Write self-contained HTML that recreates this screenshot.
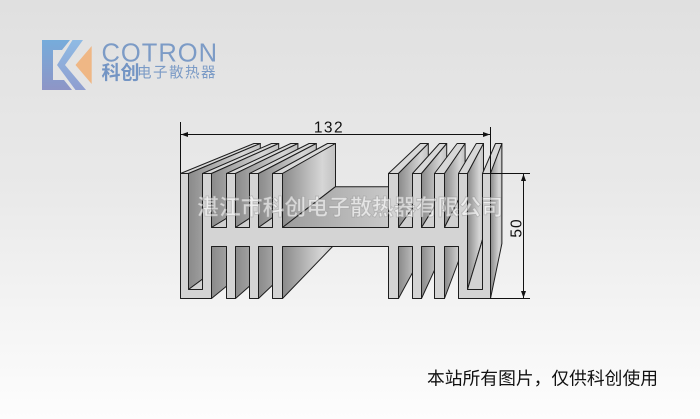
<!DOCTYPE html>
<html><head><meta charset="utf-8"><style>
html,body{margin:0;padding:0;background:#eee;}
svg{display:block;}
</style></head><body>
<svg width="700" height="419" viewBox="0 0 700 419" xmlns="http://www.w3.org/2000/svg" font-family="'Liberation Sans','Noto Sans CJK SC',sans-serif">
<defs>
<linearGradient id="bg" x1="0" y1="0" x2="0" y2="1">
<stop offset="0" stop-color="#e0e0e0"/><stop offset="0.45" stop-color="#e9e9e9"/><stop offset="0.75" stop-color="#f4f4f4"/><stop offset="1" stop-color="#fdfdfd"/>
</linearGradient>
<linearGradient id="side" x1="0" y1="0" x2="1" y2="0">
<stop offset="0" stop-color="#8a8a8a"/><stop offset="0.75" stop-color="#d6d6d6"/><stop offset="1" stop-color="#c2c2c2"/>
</linearGradient>
<linearGradient id="btop" x1="0" y1="0" x2="1" y2="0">
<stop offset="0" stop-color="#9c9c9c"/><stop offset="1" stop-color="#d6d6d6"/>
</linearGradient>
<linearGradient id="lb" x1="0" y1="0" x2="0" y2="1">
<stop offset="0" stop-color="#76acdb"/><stop offset="1" stop-color="#8e95c6"/>
</linearGradient>
<linearGradient id="lc" x1="0" y1="0" x2="0" y2="1">
<stop offset="0" stop-color="#8fbbe4"/><stop offset="1" stop-color="#8f9ed0"/>
</linearGradient>
</defs>
<rect x="0" y="0" width="700" height="419" fill="url(#bg)"/>

<!-- logo -->
<path d="M42,40 H70 L62,50 H53 V80 H64 L72,90 H42 Z" fill="url(#lb)"/>
<path d="M72.5,40 H83 L65,65 L86,90 H75.5 L57,65 Z" fill="url(#lc)"/>
<path d="M91.7,46 V84 L75.5,65 Z" fill="#efb785"/>
<text x="101.5" y="61.7" font-size="25.5" fill="#7c9bc6" letter-spacing="1">COTRON</text>
<text x="101.5" y="79" font-size="19" font-weight="bold" fill="#7495c4">科创</text>
<text x="137" y="77.5" font-size="14.5" fill="#7b9bc6" letter-spacing="1.5">电子散热器</text>

<!-- heatsink -->
<g transform="translate(0.5,0.5)" stroke="#1e1e1e" stroke-width="1" stroke-linejoin="round">
<polygon points="180,173 188,173 259.8,143 253.4,143" fill="#d8d8d8"/>
<polygon points="188,173 188,289 259.8,235.8 259.8,143" fill="url(#side)"/>
<polygon points="188,289 202,289 271,235.8 259.8,235.8" fill="#d2d2d2"/>

<polygon points="211,246 211,298 278.2,243 278.2,201.4" fill="url(#side)"/>
<polygon points="202,173 211,173 278.2,143 271,143" fill="#d8d8d8"/>
<polygon points="211,173 211,227 278.2,186.2 278.2,143" fill="url(#side)"/>
<polygon points="211,227 226,227 290.2,186.2 278.2,186.2" fill="#d0d0d0"/>

<polygon points="235,246 235,298 297.4,243 297.4,201.4" fill="url(#side)"/>
<polygon points="226,173 235,173 297.4,143 290.2,143" fill="#d8d8d8"/>
<polygon points="235,173 235,227 297.4,186.2 297.4,143" fill="url(#side)"/>
<polygon points="235,227 249,227 308.6,186.2 297.4,186.2" fill="#d0d0d0"/>

<polygon points="258,246 258,298 315.8,243 315.8,201.4" fill="url(#side)"/>
<polygon points="249,173 258,173 315.8,143 308.6,143" fill="#d8d8d8"/>
<polygon points="258,173 258,227 315.8,186.2 315.8,143" fill="url(#side)"/>
<polygon points="258,227 272,227 327,186.2 315.8,186.2" fill="#d0d0d0"/>

<polygon points="282,246 282,298 335,243 335,201.4" fill="url(#side)"/>
<polygon points="272,173 282,173 335,143 327,143" fill="#d8d8d8"/>
<polygon points="282,173 282,227 335,186.2 335,143" fill="url(#side)"/>
<polygon points="282,227 388,227 419.8,186.2 335,186.2" fill="url(#btop)"/>

<polygon points="398,246 398,298 427.8,243 427.8,201.4" fill="url(#side)"/>
<polygon points="388,173 398,173 427.8,143 419.8,143" fill="#d8d8d8"/>
<polygon points="398,173 398,227 427.8,186.2 427.8,143" fill="url(#side)"/>
<polygon points="398,227 412,227 439,186.2 427.8,186.2" fill="#d0d0d0"/>

<polygon points="421,246 421,298 446.2,243 446.2,201.4" fill="url(#side)"/>
<polygon points="412,173 421,173 446.2,143 439,143" fill="#d8d8d8"/>
<polygon points="421,173 421,227 446.2,186.2 446.2,143" fill="url(#side)"/>
<polygon points="421,227 434,227 456.6,186.2 446.2,186.2" fill="#d0d0d0"/>

<polygon points="444,246 444,298 464.6,243 464.6,201.4" fill="url(#side)"/>
<polygon points="434,173 444,173 464.6,143 456.6,143" fill="#d8d8d8"/>
<polygon points="444,173 444,227 464.6,186.2 464.6,143" fill="url(#side)"/>
<polygon points="444,227 458,227 475.8,186.2 464.6,186.2" fill="#d0d0d0"/>

<polygon points="458,173 467,173 483,143 475.8,143" fill="#d8d8d8"/>
<polygon points="467,173 467,289 483,235.8 483,143" fill="url(#side)"/>
<polygon points="467,289 482,289 495,235.8 483,235.8" fill="#d2d2d2"/>

<polygon points="482,173 490,173 501.4,143 495,143" fill="#d8d8d8"/>
<polygon points="490,173 490,298 501.4,243 501.4,143" fill="url(#side)"/>

<path fill="#d4d4d4" d="M180,173 H188 V289 H202 V173 H211 V227 H226 V173 H235 V227 H249 V173 H258 V227 H272 V173 H282 V227 H388 V173 H398 V227 H412 V173 H421 V227 H434 V173 H444 V227 H458 V173 H467 V289 H482 V173 H490 V298 H458 V246 H444 V298 H434 V246 H421 V298 H412 V246 H398 V298 H388 V246 H282 V298 H272 V246 H258 V298 H249 V246 H235 V298 H226 V246 H211 V298 H180 Z"/>
</g>

<!-- dimensions -->
<g stroke="#111" stroke-width="1">
<line x1="180.5" y1="122" x2="180.5" y2="173"/>
<line x1="490.5" y1="127" x2="490.5" y2="173"/>
<line x1="181" y1="134.5" x2="490" y2="134.5"/>
<line x1="490" y1="173.5" x2="530" y2="173.5"/>
<line x1="490" y1="298.5" x2="530" y2="298.5"/>
<line x1="523.5" y1="174" x2="523.5" y2="298"/>
</g>
<g fill="#111">
<polygon points="181,134.5 188,132 188,137"/>
<polygon points="490,134.5 483,132 483,137"/>
<polygon points="523.5,174 521,181 526,181"/>
<polygon points="523.5,298 521,291 526,291"/>
</g>
<text x="329" y="132.5" font-size="15.5" fill="#111" text-anchor="middle" letter-spacing="1.5">132</text>
<text transform="translate(521.5,228) rotate(-90)" font-size="15.5" fill="#111" text-anchor="middle" letter-spacing="1">50</text>

<!-- watermark -->
<text x="197" y="215" font-size="22" font-weight="bold" fill="#ffffff" fill-opacity="0.6" stroke="#8f8f8f" stroke-opacity="0.45" stroke-width="0.9" textLength="306" lengthAdjust="spacingAndGlyphs">湛江市科创电子散热器有限公司</text>

<!-- footer -->
<text x="427" y="384.5" font-size="17.8" fill="#111" textLength="231" lengthAdjust="spacingAndGlyphs">本站所有图片，仅供科创使用</text>
</svg>
</body></html>
